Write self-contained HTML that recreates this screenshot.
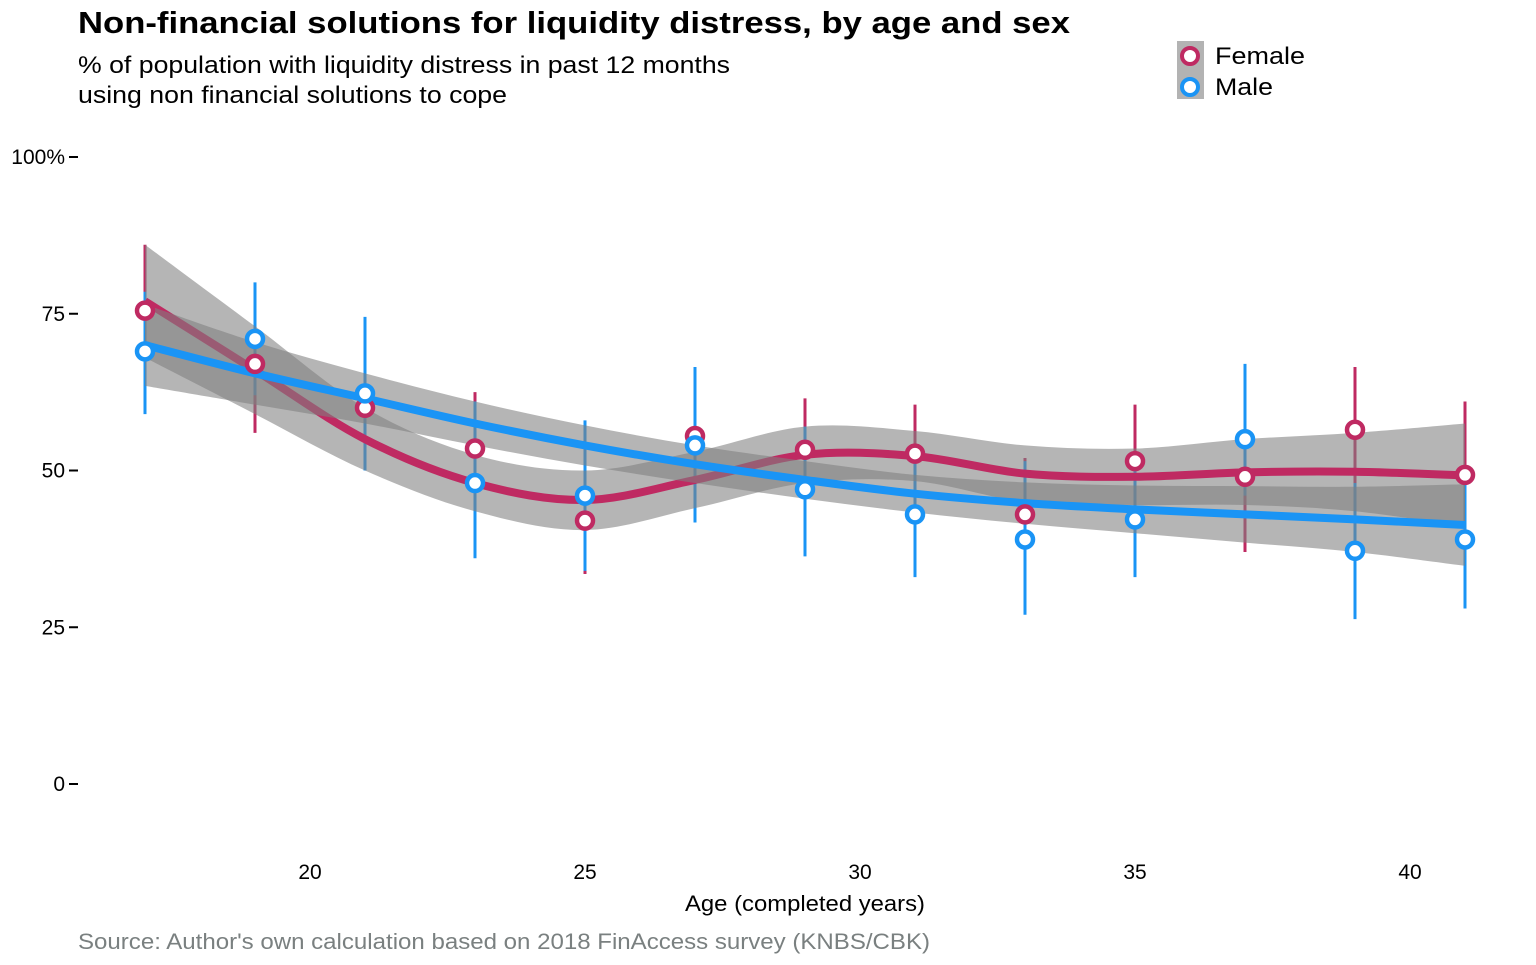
<!DOCTYPE html>
<html><head><meta charset="utf-8"><style>
body{margin:0;background:#fff;font-family:"Liberation Sans",Arial,sans-serif}
</style></head><body>
<svg width="1536" height="960" xmlns="http://www.w3.org/2000/svg" font-family="Liberation Sans, Arial, sans-serif">
<text x="78" y="33" font-size="31" font-weight="bold" textLength="992" lengthAdjust="spacingAndGlyphs">Non-financial solutions for liquidity distress, by age and sex</text>
<text x="78" y="73" font-size="24" textLength="652" lengthAdjust="spacingAndGlyphs">% of population with liquidity distress in past 12 months</text>
<text x="78" y="103" font-size="24" textLength="429" lengthAdjust="spacingAndGlyphs">using non financial solutions to cope</text>
<g id="yaxis"></g>
<g id="xaxis"></g>
<g id="plot"></g>
<text x="805" y="911" font-size="22" text-anchor="middle" textLength="240" lengthAdjust="spacingAndGlyphs">Age (completed years)</text>
<text x="78" y="949" font-size="22" fill="#7a8080" textLength="852" lengthAdjust="spacingAndGlyphs">Source: Author's own calculation based on 2018 FinAccess survey (KNBS/CBK)</text>
<g>
<rect x="1177" y="41" width="27" height="58" fill="#b3b3b3"/>
<circle cx="1190" cy="56" r="8" fill="#fff" stroke="#bf2a62" stroke-width="4"/>
<circle cx="1190" cy="87" r="8" fill="#fff" stroke="#1a94f5" stroke-width="4"/>
<text x="1215" y="64" font-size="24" textLength="90" lengthAdjust="spacingAndGlyphs">Female</text>
<text x="1215" y="95" font-size="24" textLength="58" lengthAdjust="spacingAndGlyphs">Male</text>
</g>
</svg>
<script>
const ages=[17,19,21,23,25,27,29,31,33,35,37,39,41];
const femaleVal=[75.5,67,60,53.5,42,55.5,53.3,52.7,43,51.5,49,56.5,49.3];
const femaleLo=[65,56,50,44,33.5,46,45,45,34,43,37,47,39];
const femaleHi=[86,78,69,62.5,50,64,61.5,60.5,52,60.5,61,66.5,61];
const maleVal=[69,71,62.3,48,46,54,47,43,39,42.2,55,37.2,39];
const maleLo=[59,62,50,36,34,41.7,36.3,33,27,33,46,26.3,28];
const maleHi=[78.5,80,74.5,61,58,66.5,57,52,51.5,50,67,48,48];
const fitAges=[17,19,21,23,25,27,29,31,33,35,37,39,41];
const femaleFit=[77,66,55,48,45.3,48.5,52.5,52.3,49.5,49,49.7,49.8,49.2];
const femaleFitLo=[68,59,50,43.5,40.5,44,48,48.3,45,44.5,44.5,43.5,41];
const femaleFitHi=[86,73,60,52.5,50,53,57,56.3,54,53.5,55,56,57.5];
const maleFit=[70,65.5,61.5,57.5,54,51,48.5,46.3,44.8,43.8,43,42.2,41.3];
const maleFitLo=[63.5,60.5,57.5,54,50.8,48,45.5,43.3,41.5,40,38.5,37,34.8];
const maleFitHi=[76.5,70.5,65.5,61,57.2,54,51.5,49.3,48.1,47.6,47.5,47.4,47.8];
const yTicks=[0,25,50,75,100];
const yTickLabels=["0","25","50","75","100%"];
const xTicks=[20,25,30,35,40];

const NS="http://www.w3.org/2000/svg";
const X=a=>310+(a-20)*55;
const Y=v=>784-v*6.27;
function mk(parent,tag,attrs){const e=document.createElementNS(NS,tag);for(const k in attrs)e.setAttribute(k,attrs[k]);parent.appendChild(e);return e;}
function curve(xs,ys,move){
  const p=xs.map((a,i)=>[X(a),Y(ys[i])]);let d=(move?"M":"L")+p[0][0]+","+p[0][1];
  for(let i=0;i<p.length-1;i++){const p0=p[i-1]||p[i],p1=p[i],p2=p[i+1],p3=p[i+2]||p[i+1];
    d+=`C${p1[0]+(p2[0]-p0[0])/6},${p1[1]+(p2[1]-p0[1])/6} ${p2[0]-(p3[0]-p1[0])/6},${p2[1]-(p3[1]-p1[1])/6} ${p2[0]},${p2[1]}`;}
  return d;}
const ya=document.getElementById('yaxis');
yTicks.forEach((t,i)=>{
  const l=mk(ya,'line',{x1:69,x2:78,y1:Y(t),y2:Y(t),stroke:'#000','stroke-width':2});
  
  
  const tx=mk(ya,'text',{x:65,y:Y(t)+7,'font-size':21,'text-anchor':'end'});tx.textContent=yTickLabels[i];
  
  
});
const xa=document.getElementById('xaxis');
xTicks.forEach(t=>{
  const tx=mk(xa,'text',{x:X(t),y:879,'font-size':21,'text-anchor':'middle'});tx.textContent=t;
  
  
});
const pl=document.getElementById('plot');
const F='#bf2a62',M='#1a94f5';
function band(lo,hi,name){
  const rev=fitAges.slice().reverse(),hr=hi.slice().reverse();
  const d=curve(fitAges,lo,true)+curve(rev,hr,false)+"Z";
  const b=mk(pl,'path',{d:d,fill:'#7f7f7f','fill-opacity':0.58});
  
  
}
function line(v,c,name){
  const l=mk(pl,'path',{d:curve(fitAges,v,true),fill:'none',stroke:c,'stroke-width':8});
  
  
}
function bars(lo,hi,c,name){
  ages.forEach((a,i)=>{const e=mk(pl,'line',{x1:X(a),x2:X(a),y1:Y(lo[i]),y2:Y(hi[i]),stroke:c,'stroke-width':3});
    
    });
}
function pts(v,c,name){
  ages.forEach((a,i)=>{const e=mk(pl,'circle',{cx:X(a),cy:Y(v[i]),r:8,fill:'#fff',stroke:c,'stroke-width':4.5});
    
    });
}
bars(femaleLo,femaleHi,F,'female-error-bar');
bars(maleLo,maleHi,M,'male-error-bar');
band(femaleFitLo,femaleFitHi,'female-confidence-band');
line(femaleFit,F,'female-smooth-line');
band(maleFitLo,maleFitHi,'male-confidence-band');
line(maleFit,M,'male-smooth-line');
pts(femaleVal,F,'female-point');
pts(maleVal,M,'male-point');
</script>
</body></html>
